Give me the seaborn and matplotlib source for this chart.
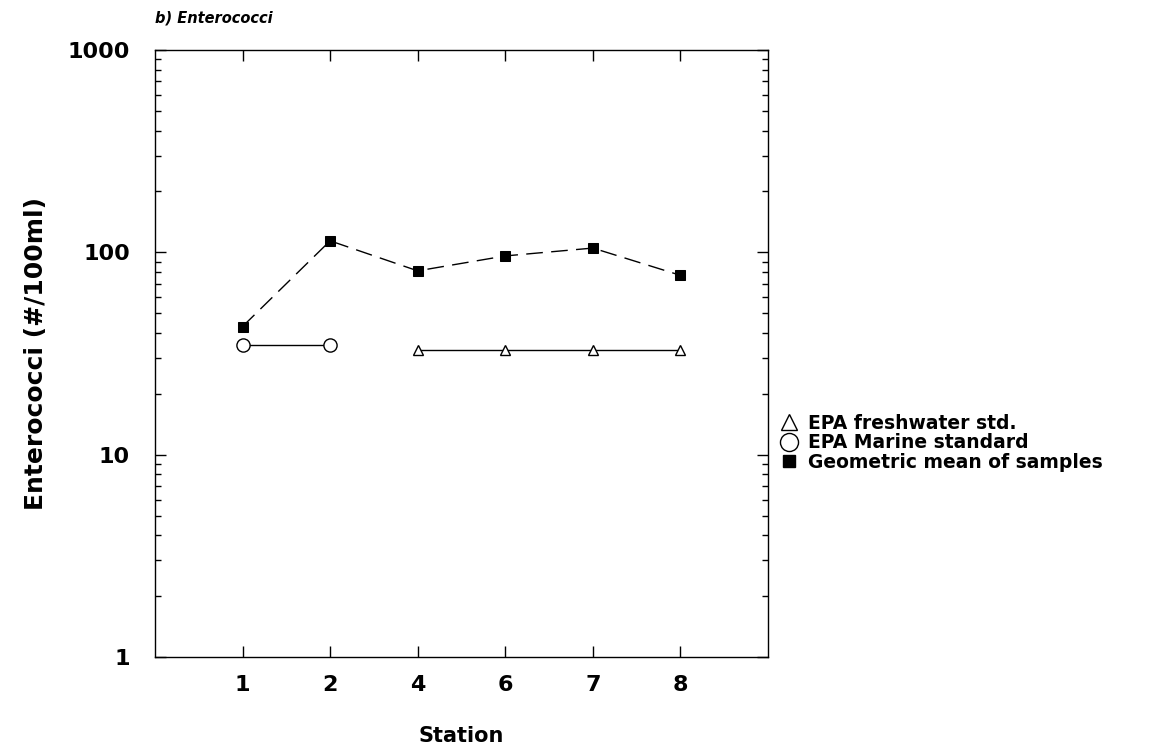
import numpy as np
import pandas as pd
import matplotlib
matplotlib.use("Agg")
import matplotlib.pyplot as plt
from matplotlib.lines import Line2D
import seaborn as sns

# dati
STATIONS = ["1", "2", "4", "6", "7", "8"]
GEO_MEAN = [43, 114, 81, 96, 105, 77]
MARINE_STATIONS = ["1", "2"]
MARINE_STD = [35, 35]
FRESH_STATIONS = ["4", "6", "7", "8"]
FRESH_STD = [33, 33, 33, 33]

sns.set_style("ticks")
plt.rcParams['font.family'] = ['DejaVu Sans']
plt.rcParams['text.color'] = 'black'
plt.rcParams['axes.labelcolor'] = 'black'
plt.rcParams['xtick.color'] = 'black'
plt.rcParams['ytick.color'] = 'black'

pos = {s: i for i, s in enumerate(STATIONS)}

df_geo = pd.DataFrame({"x": [pos[s] for s in STATIONS], "y": GEO_MEAN})
df_mar = pd.DataFrame({"x": [pos[s] for s in MARINE_STATIONS], "y": MARINE_STD})
df_fre = pd.DataFrame({"x": [pos[s] for s in FRESH_STATIONS], "y": FRESH_STD})

fig = plt.figure(figsize=(11.53, 7.52), dpi=100)
ax = fig.add_axes([0.1344, 0.1263, 0.5317, 0.8072])

sns.lineplot(data=df_geo, x="x", y="y", ax=ax, color="black", linewidth=1.0,
             marker="s", markersize=6.5, markeredgecolor="black", markerfacecolor="black",
             dashes=False, linestyle=(0, (12, 6)))
sns.lineplot(data=df_mar, x="x", y="y", ax=ax, color="black", linewidth=1.0,
             marker="o", markersize=9.5, markerfacecolor="white", markeredgecolor="black",
             markeredgewidth=1.0)
sns.lineplot(data=df_fre, x="x", y="y", ax=ax, color="black", linewidth=1.0,
             marker="^", markersize=7.5, markerfacecolor="white", markeredgecolor="black",
             markeredgewidth=1.0)

ax.set_yscale("log")
ax.set_ylim(1, 1000)
ax.set_xlim(-1, len(STATIONS))
ax.set_xticks(range(len(STATIONS)))
ax.set_xticklabels(STATIONS)
ax.set_yticks([1, 10, 100, 1000])
ax.set_yticklabels(["1", "10", "100", "1000"])

ax.tick_params(axis="both", which="both", direction="in", top=True, right=True, color="black")
ax.tick_params(axis="both", which="major", length=8, width=1, labelsize=16)
ax.tick_params(axis="x", which="major", pad=13)
ax.tick_params(axis="y", which="major", pad=18)
ax.tick_params(axis="y", which="minor", length=4, width=1)
for lab in ax.get_xticklabels() + ax.get_yticklabels():
    lab.set_fontweight("bold")
for sp in ax.spines.values():
    sp.set_linewidth(1.0)
    sp.set_color("black")

ax.set_xlabel("Station", fontsize=15, fontweight="bold", labelpad=22)
ax.set_ylabel("Enterococci (#/100ml)", fontsize=18, fontweight="bold", labelpad=14)
ax.set_title("b) Enterococci", fontsize=10.5, fontweight="bold", fontstyle="italic",
             loc="left", pad=20)

handles = [
    Line2D([], [], linestyle="none", marker="^", markersize=11, markerfacecolor="white",
           markeredgecolor="black", markeredgewidth=1.0),
    Line2D([], [], linestyle="none", marker="o", markersize=13, markerfacecolor="white",
           markeredgecolor="black", markeredgewidth=1.0),
    Line2D([], [], linestyle="none", marker="s", markersize=8, markerfacecolor="black",
           markeredgecolor="black"),
]
labels = ["EPA freshwater std.", "EPA Marine standard", "Geometric mean of samples"]
leg = fig.legend(handles, labels, loc="upper left", bbox_to_anchor=(0.660, 0.472),
                 frameon=False, prop={"weight": "bold", "size": 13.5},
                 handletextpad=0.4, labelspacing=0.03, handlelength=1.2)

fig.savefig("out.png", dpi=100)
